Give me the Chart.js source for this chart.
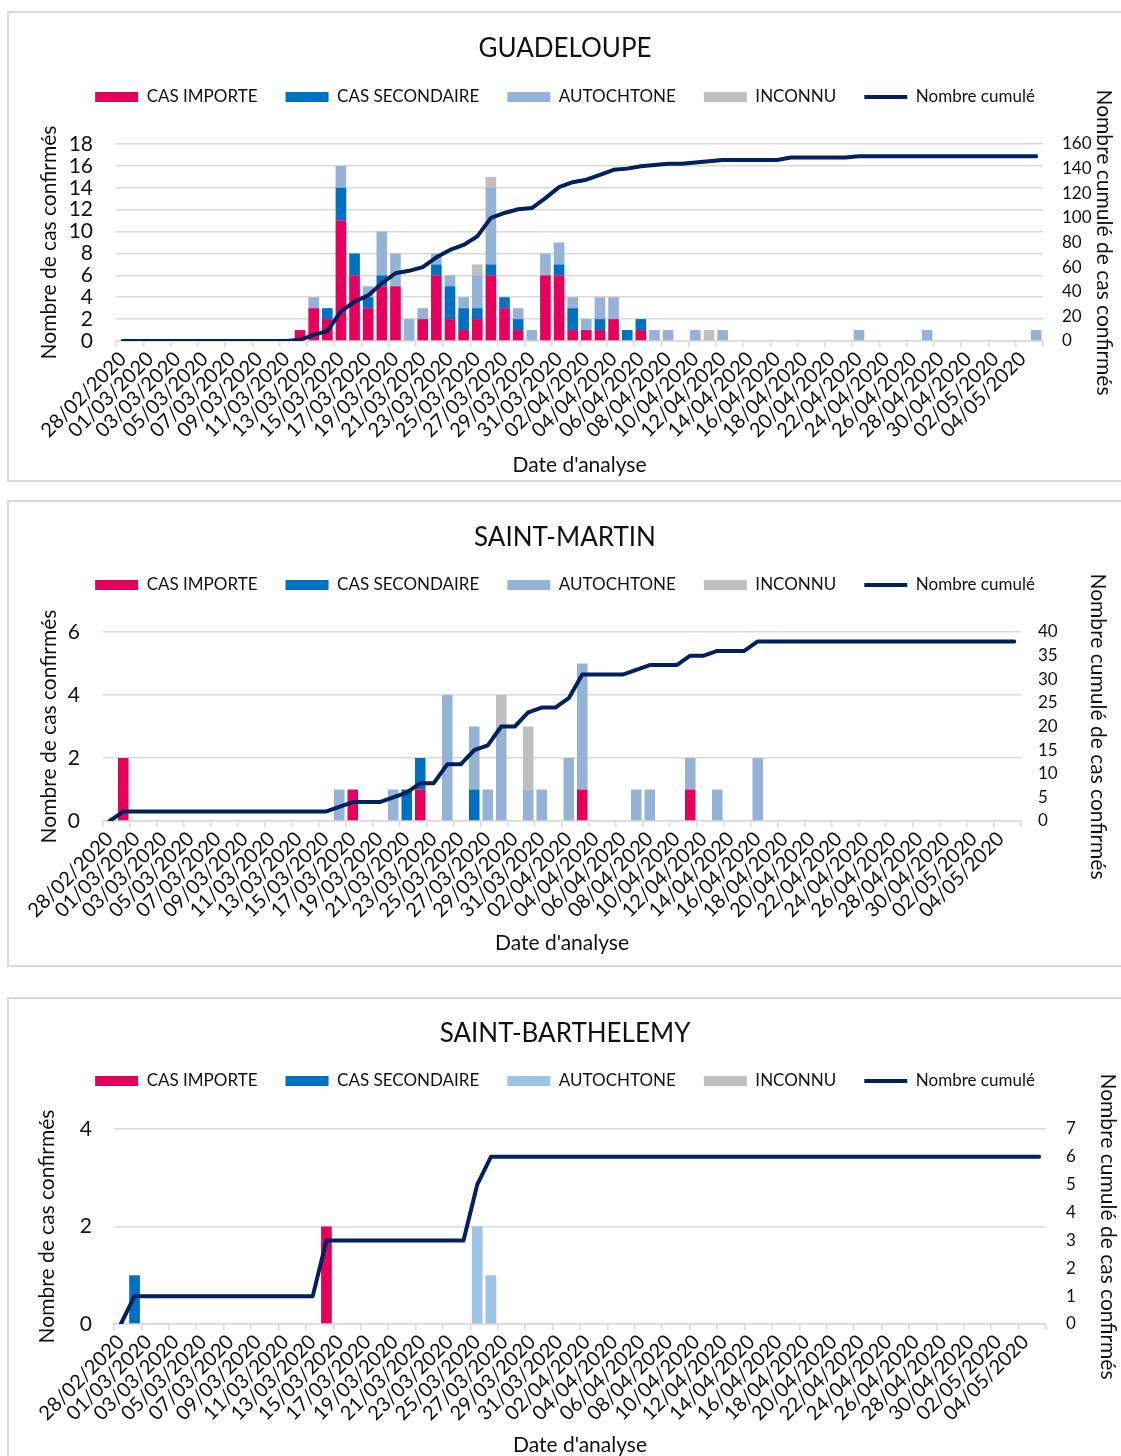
<!DOCTYPE html>
<html lang="fr">
<head>
<meta charset="utf-8">
<title>Cas confirmés par date d'analyse</title>
<script src="https://cdn.jsdelivr.net/npm/chart.js@4.4.1/dist/chart.umd.min.js"></script>
<style>
    html, body { margin: 0; padding: 0; background: #fff; overflow: hidden; }
    body { position: relative; width: 1121px; height: 1456px; }
    .panel { position: absolute; left: 7px; width: 1130px; border: 2px solid #d9d9d9; box-sizing: border-box; background: #fff; }
    .panel canvas { position: absolute; left: 0; top: 0; }
</style>
</head>
<body>
<div class="panel" style="top: 11px; height: 471px;"><canvas id="chartGuadeloupe"></canvas></div>
<div class="panel" style="top: 500px; height: 467px;"><canvas id="chartSaintMartin"></canvas></div>
<div class="panel" style="top: 997px; height: 480px;"><canvas id="chartSaintBarthelemy"></canvas></div>
<script>
const dateLabels = [
    '28/02/2020', '29/02/2020',
    '01/03/2020', '02/03/2020', '03/03/2020', '04/03/2020', '05/03/2020', '06/03/2020', '07/03/2020', '08/03/2020',
    '09/03/2020', '10/03/2020', '11/03/2020', '12/03/2020', '13/03/2020', '14/03/2020', '15/03/2020', '16/03/2020',
    '17/03/2020', '18/03/2020', '19/03/2020', '20/03/2020', '21/03/2020', '22/03/2020', '23/03/2020', '24/03/2020',
    '25/03/2020', '26/03/2020', '27/03/2020', '28/03/2020', '29/03/2020', '30/03/2020', '31/03/2020',
    '01/04/2020', '02/04/2020', '03/04/2020', '04/04/2020', '05/04/2020', '06/04/2020', '07/04/2020', '08/04/2020',
    '09/04/2020', '10/04/2020', '11/04/2020', '12/04/2020', '13/04/2020', '14/04/2020', '15/04/2020', '16/04/2020',
    '17/04/2020', '18/04/2020', '19/04/2020', '20/04/2020', '21/04/2020', '22/04/2020', '23/04/2020', '24/04/2020',
    '25/04/2020', '26/04/2020', '27/04/2020', '28/04/2020', '29/04/2020', '30/04/2020',
    '01/05/2020', '02/05/2020', '03/05/2020', '04/05/2020', '05/05/2020'
];

const seriesLabels = ['CAS IMPORTE', 'CAS SECONDAIRE', 'AUTOCHTONE', 'INCONNU', 'Nombre cumulé'];

// GUADELOUPE
const guadeloupeImporte = [
    0, 0, 0, 0, 0, 0, 0, 0, 0, 0,
    0, 0, 0, 1, 3, 2, 11, 6, 3, 5,
    5, 0, 2, 6, 2, 1, 2, 6, 3, 1,
    0, 6, 6, 1, 1, 1, 2, 0, 1, 0,
    0, 0, 0, 0, 0, 0, 0, 0, 0, 0,
    0, 0, 0, 0, 0, 0, 0, 0, 0, 0,
    0, 0, 0, 0, 0, 0, 0, 0
];
const guadeloupeSecondaire = [
    0, 0, 0, 0, 0, 0, 0, 0, 0, 0,
    0, 0, 0, 0, 0, 1, 3, 2, 1, 1,
    0, 0, 0, 1, 3, 2, 1, 1, 1, 1,
    0, 0, 1, 2, 0, 1, 0, 1, 1, 0,
    0, 0, 0, 0, 0, 0, 0, 0, 0, 0,
    0, 0, 0, 0, 0, 0, 0, 0, 0, 0,
    0, 0, 0, 0, 0, 0, 0, 0
];
const guadeloupeAutochtone = [
    0, 0, 0, 0, 0, 0, 0, 0, 0, 0,
    0, 0, 0, 0, 1, 0, 2, 0, 1, 4,
    3, 2, 1, 1, 1, 1, 3, 7, 0, 1,
    1, 2, 2, 1, 1, 2, 2, 0, 0, 1,
    1, 0, 1, 0, 1, 0, 0, 0, 0, 0,
    0, 0, 0, 0, 1, 0, 0, 0, 0, 1,
    0, 0, 0, 0, 0, 0, 0, 1
];
const guadeloupeInconnu = [
    0, 0, 0, 0, 0, 0, 0, 0, 0, 0,
    0, 0, 0, 0, 0, 0, 0, 0, 0, 0,
    0, 0, 0, 0, 0, 0, 1, 1, 0, 0,
    0, 0, 0, 0, 0, 0, 0, 0, 0, 0,
    0, 0, 0, 1, 0, 0, 0, 0, 0, 0,
    0, 0, 0, 0, 0, 0, 0, 0, 0, 0,
    0, 0, 0, 0, 0, 0, 0, 0
];
const guadeloupeCumul = [
    0, 0, 0, 0, 0, 0, 0, 0, 0, 0,
    0, 0, 0, 1, 5, 8, 24, 32, 37, 47,
    55, 57, 60, 68, 74, 78, 85, 100, 104, 107,
    108, 116, 125, 129, 131, 135, 139, 140, 142, 143,
    144, 144, 145, 146, 147, 147, 147, 147, 147, 149,
    149, 149, 149, 149, 150, 150, 150, 150, 150, 150,
    150, 150, 150, 150, 150, 150, 150, 150
];

// SAINT-MARTIN
const saintMartinImporte = [
    0, 2, 0, 0, 0, 0, 0, 0, 0, 0,
    0, 0, 0, 0, 0, 0, 0, 0, 1, 0,
    0, 0, 0, 1, 0, 0, 0, 0, 0, 0,
    0, 0, 0, 0, 0, 1, 0, 0, 0, 0,
    0, 0, 0, 1, 0, 0, 0, 0, 0, 0,
    0, 0, 0, 0, 0, 0, 0, 0, 0, 0,
    0, 0, 0, 0, 0, 0, 0, 0
];
const saintMartinSecondaire = [
    0, 0, 0, 0, 0, 0, 0, 0, 0, 0,
    0, 0, 0, 0, 0, 0, 0, 0, 0, 0,
    0, 0, 1, 1, 0, 0, 0, 1, 0, 0,
    0, 0, 0, 0, 0, 0, 0, 0, 0, 0,
    0, 0, 0, 0, 0, 0, 0, 0, 0, 0,
    0, 0, 0, 0, 0, 0, 0, 0, 0, 0,
    0, 0, 0, 0, 0, 0, 0, 0
];
const saintMartinAutochtone = [
    0, 0, 0, 0, 0, 0, 0, 0, 0, 0,
    0, 0, 0, 0, 0, 0, 0, 1, 0, 0,
    0, 1, 0, 0, 0, 4, 0, 2, 1, 3,
    0, 1, 1, 0, 2, 4, 0, 0, 0, 1,
    1, 0, 0, 1, 0, 1, 0, 0, 2, 0,
    0, 0, 0, 0, 0, 0, 0, 0, 0, 0,
    0, 0, 0, 0, 0, 0, 0, 0
];
const saintMartinInconnu = [
    0, 0, 0, 0, 0, 0, 0, 0, 0, 0,
    0, 0, 0, 0, 0, 0, 0, 0, 0, 0,
    0, 0, 0, 0, 0, 0, 0, 0, 0, 1,
    0, 2, 0, 0, 0, 0, 0, 0, 0, 0,
    0, 0, 0, 0, 0, 0, 0, 0, 0, 0,
    0, 0, 0, 0, 0, 0, 0, 0, 0, 0,
    0, 0, 0, 0, 0, 0, 0, 0
];
const saintMartinCumul = [
    0, 2, 2, 2, 2, 2, 2, 2, 2, 2,
    2, 2, 2, 2, 2, 2, 2, 3, 4, 4,
    4, 5, 6, 8, 8, 12, 12, 15, 16, 20,
    20, 23, 24, 24, 26, 31, 31, 31, 31, 32,
    33, 33, 33, 35, 35, 36, 36, 36, 38, 38,
    38, 38, 38, 38, 38, 38, 38, 38, 38, 38,
    38, 38, 38, 38, 38, 38, 38, 38
];

// SAINT-BARTHELEMY
const saintBarthImporte = [
    0, 0, 0, 0, 0, 0, 0, 0, 0, 0,
    0, 0, 0, 0, 0, 2, 0, 0, 0, 0,
    0, 0, 0, 0, 0, 0, 0, 0, 0, 0,
    0, 0, 0, 0, 0, 0, 0, 0, 0, 0,
    0, 0, 0, 0, 0, 0, 0, 0, 0, 0,
    0, 0, 0, 0, 0, 0, 0, 0, 0, 0,
    0, 0, 0, 0, 0, 0, 0, 0
];
const saintBarthSecondaire = [
    0, 1, 0, 0, 0, 0, 0, 0, 0, 0,
    0, 0, 0, 0, 0, 0, 0, 0, 0, 0,
    0, 0, 0, 0, 0, 0, 0, 0, 0, 0,
    0, 0, 0, 0, 0, 0, 0, 0, 0, 0,
    0, 0, 0, 0, 0, 0, 0, 0, 0, 0,
    0, 0, 0, 0, 0, 0, 0, 0, 0, 0,
    0, 0, 0, 0, 0, 0, 0, 0
];
const saintBarthAutochtone = [
    0, 0, 0, 0, 0, 0, 0, 0, 0, 0,
    0, 0, 0, 0, 0, 0, 0, 0, 0, 0,
    0, 0, 0, 0, 0, 0, 2, 1, 0, 0,
    0, 0, 0, 0, 0, 0, 0, 0, 0, 0,
    0, 0, 0, 0, 0, 0, 0, 0, 0, 0,
    0, 0, 0, 0, 0, 0, 0, 0, 0, 0,
    0, 0, 0, 0, 0, 0, 0, 0
];
const saintBarthInconnu = [
    0, 0, 0, 0, 0, 0, 0, 0, 0, 0,
    0, 0, 0, 0, 0, 0, 0, 0, 0, 0,
    0, 0, 0, 0, 0, 0, 0, 0, 0, 0,
    0, 0, 0, 0, 0, 0, 0, 0, 0, 0,
    0, 0, 0, 0, 0, 0, 0, 0, 0, 0,
    0, 0, 0, 0, 0, 0, 0, 0, 0, 0,
    0, 0, 0, 0, 0, 0, 0, 0
];
const saintBarthCumul = [
    0, 1, 1, 1, 1, 1, 1, 1, 1, 1,
    1, 1, 1, 1, 1, 3, 3, 3, 3, 3,
    3, 3, 3, 3, 3, 3, 5, 6, 6, 6,
    6, 6, 6, 6, 6, 6, 6, 6, 6, 6,
    6, 6, 6, 6, 6, 6, 6, 6, 6, 6,
    6, 6, 6, 6, 6, 6, 6, 6, 6, 6,
    6, 6, 6, 6, 6, 6, 6, 6
];

// axis ranges: [max, step]
const guadeloupeLeftTicks = [18, 2];
const guadeloupeRightTicks = [160, 20];
const saintMartinLeftTicks = [6, 2];
const saintMartinRightTicks = [40, 5];
const saintBarthLeftTicks = [4, 2];
const saintBarthRightTicks = [7, 1];

const COLOR_IMPORTE = '#e4005b';
const COLOR_SECONDAIRE = '#0070c0';
const COLOR_AUTOCHTONE = '#95b3d7';
const COLOR_AUTOCHTONE_CLAIR = '#9dc3e6';
const COLOR_INCONNU = '#bfbfbf';
const COLOR_CUMUL = '#002060';
const COLOR_GRID = '#d9d9d9';
const COLOR_TEXT = '#111111';

// canvas-space layout of each panel (pixels)
const guadeloupeBox = {
    width: 1112, height: 467, titleCenter: 36, legendCenter: 84,
    plotLeft: 107, plotRight: 1034, plotTop: 131, plotBottom: 328,
    xTitleCenter: 452, leftTitleX: 40, leftTickRight: 84, rightTickLeft: 1053, rightTitleX: 1095
};
const saintMartinBox = {
    width: 1112, height: 463, titleCenter: 36, legendCenter: 83,
    plotLeft: 94, plotRight: 1012, plotTop: 130, plotBottom: 319,
    xTitleCenter: 441, leftTitleX: 40, leftTickRight: 71, rightTickLeft: 1029, rightTitleX: 1089
};
const saintBarthBox = {
    width: 1112, height: 476, titleCenter: 35, legendCenter: 82,
    plotLeft: 105, plotRight: 1037, plotTop: 130, plotBottom: 325,
    xTitleCenter: 446, leftTitleX: 38, leftTickRight: 83, rightTickLeft: 1057, rightTitleX: 1099
};

Chart.defaults.font.family = "Lato, 'Open Sans', sans-serif";
Chart.defaults.color = COLOR_TEXT;

const TITLE_SIZE = 26;
const LEGEND_SIZE = 17;
const LEGEND_GAP = 28;
const AXIS_TITLE_SIZE = 21;

function barDataset(label, values, color) {
    return {
        label,
        data: values,
        backgroundColor: color,
        borderWidth: 0,
        pointStyle: 'rect',
        categoryPercentage: 1,
        barPercentage: 0.78,
        yAxisID: 'y'
    };
}

function renderCaseChart(canvasId, title, series, leftTicks, rightTicks, autochtoneColor, box) {
    const canvasElement = document.getElementById(canvasId);
    canvasElement.width = box.width;
    canvasElement.height = box.height;

    const titleLine = TITLE_SIZE * 1.2;
    const titleTop = box.titleCenter - titleLine / 2;
    const legendTop = box.legendCenter - LEGEND_SIZE / 2 - LEGEND_GAP;
    // legend box = gap + item height + 10
    const legendBottom = legendTop + LEGEND_GAP + LEGEND_SIZE + 10;
    const spacerHeight = box.plotTop - legendBottom;
    const axisTitleHalf = AXIS_TITLE_SIZE * 1.2 / 2;

    return new Chart(canvasElement, {
        type: 'bar',
        data: {
            labels: dateLabels,
            datasets: [
                barDataset(seriesLabels[0], series[0], COLOR_IMPORTE),
                barDataset(seriesLabels[1], series[1], COLOR_SECONDAIRE),
                barDataset(seriesLabels[2], series[2], autochtoneColor),
                barDataset(seriesLabels[3], series[3], COLOR_INCONNU),
                {
                    type: 'line',
                    label: seriesLabels[4],
                    data: series[4],
                    yAxisID: 'y1',
                    borderColor: COLOR_CUMUL,
                    borderWidth: 4,
                    borderCapStyle: 'round',
                    borderJoinStyle: 'round',
                    pointRadius: 0,
                    pointHoverRadius: 0,
                    pointStyle: 'line',
                    pointBorderColor: COLOR_CUMUL,
                    pointBorderWidth: 4,
                    tension: 0,
                    order: -1
                }
            ]
        },
        options: {
            responsive: false,
            animation: false,
            devicePixelRatio: 1,
            layout: { padding: 0 },
            plugins: {
                title: {
                    display: true,
                    text: title,
                    color: COLOR_TEXT,
                    font: { size: TITLE_SIZE, weight: 'normal' },
                    padding: { top: titleTop, bottom: legendTop - titleTop - titleLine }
                },
                legend: {
                    display: true,
                    position: 'top',
                    labels: {
                        usePointStyle: true,
                        pointStyleWidth: 43,
                        boxHeight: 10,
                        padding: LEGEND_GAP,
                        color: COLOR_TEXT,
                        font: { size: LEGEND_SIZE },
                        sort: (a, b) => a.datasetIndex - b.datasetIndex
                    }
                },
                tooltip: { enabled: false }
            },
            scales: {
                x: {
                    stacked: true,
                    offset: true,
                    grid: {
                        offset: true,
                        drawOnChartArea: false,
                        drawTicks: true,
                        tickLength: 6,
                        lineWidth: 1.5,
                        color: (ctx) => (ctx.index === undefined || ctx.index % 2 === 0) ? COLOR_GRID : 'rgba(0,0,0,0)'
                    },
                    border: { display: true, color: COLOR_GRID, width: 1.5 },
                    ticks: {
                        autoSkip: false,
                        minRotation: 45,
                        maxRotation: 45,
                        padding: 0,
                        color: COLOR_TEXT,
                        font: { size: 20 },
                        callback: function (value, index) {
                            return index % 2 === 0 ? this.getLabelForValue(value) : '';
                        }
                    },
                    title: {
                        display: true,
                        text: "Date d'analyse",
                        color: COLOR_TEXT,
                        font: { size: AXIS_TITLE_SIZE },
                        padding: { top: 0, bottom: box.height - box.xTitleCenter - axisTitleHalf }
                    },
                    afterFit: (scale) => {
                        scale.height = box.height - box.plotBottom;
                    }
                },
                // empty box that keeps the gap between the legend and the plot
                xSpacer: {
                    type: 'category',
                    position: 'top',
                    display: true,
                    grid: { display: false, drawTicks: false },
                    border: { display: false },
                    ticks: { display: false },
                    afterFit: (scale) => {
                        scale.height = spacerHeight;
                    }
                },
                y: {
                    position: 'left',
                    stacked: true,
                    min: 0,
                    max: leftTicks[0],
                    grid: { color: COLOR_GRID, lineWidth: 1.5, drawTicks: false },
                    border: { display: false },
                    ticks: {
                        autoSkip: false,
                        stepSize: leftTicks[1],
                        padding: box.plotLeft - box.leftTickRight,
                        color: COLOR_TEXT,
                        font: { size: 21 }
                    },
                    title: {
                        display: true,
                        text: 'Nombre de cas confirmés',
                        color: COLOR_TEXT,
                        font: { size: AXIS_TITLE_SIZE },
                        padding: { top: box.leftTitleX - axisTitleHalf, bottom: 0 }
                    },
                    afterFit: (scale) => {
                        scale.width = box.plotLeft;
                    }
                },
                y1: {
                    position: 'right',
                    min: 0,
                    max: rightTicks[0],
                    grid: { drawOnChartArea: false, drawTicks: false },
                    border: { display: false },
                    ticks: {
                        autoSkip: false,
                        stepSize: rightTicks[1],
                        padding: box.rightTickLeft - box.plotRight,
                        color: COLOR_TEXT,
                        font: { size: 17 }
                    },
                    title: {
                        display: true,
                        text: 'Nombre cumulé de cas confirmés',
                        color: COLOR_TEXT,
                        font: { size: AXIS_TITLE_SIZE },
                        padding: { top: box.width - box.rightTitleX - axisTitleHalf, bottom: 0 }
                    },
                    afterFit: (scale) => {
                        scale.width = box.width - box.plotRight;
                    }
                }
            }
        }
    });
}

function drawAll() {
    renderCaseChart('chartGuadeloupe', 'GUADELOUPE',
        [guadeloupeImporte, guadeloupeSecondaire, guadeloupeAutochtone, guadeloupeInconnu, guadeloupeCumul],
        guadeloupeLeftTicks, guadeloupeRightTicks, COLOR_AUTOCHTONE, guadeloupeBox);
    renderCaseChart('chartSaintMartin', 'SAINT-MARTIN',
        [saintMartinImporte, saintMartinSecondaire, saintMartinAutochtone, saintMartinInconnu, saintMartinCumul],
        saintMartinLeftTicks, saintMartinRightTicks, COLOR_AUTOCHTONE, saintMartinBox);
    renderCaseChart('chartSaintBarthelemy', 'SAINT-BARTHELEMY',
        [saintBarthImporte, saintBarthSecondaire, saintBarthAutochtone, saintBarthInconnu, saintBarthCumul],
        saintBarthLeftTicks, saintBarthRightTicks, COLOR_AUTOCHTONE_CLAIR, saintBarthBox);
}

if (document.fonts && document.fonts.load) {
    Promise.all([
        document.fonts.load('17px Lato'),
        document.fonts.load('26px Lato')
    ]).then(drawAll, drawAll);
} else {
    drawAll();
}
</script>
</body>
</html>
